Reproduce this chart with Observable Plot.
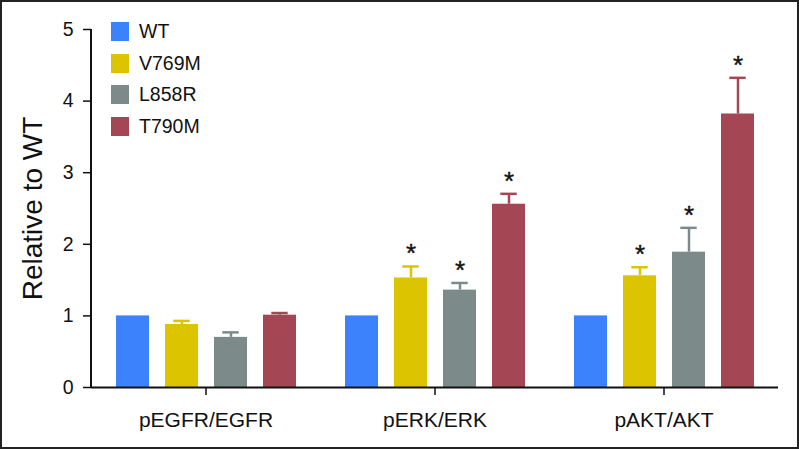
<!DOCTYPE html>
<html>
<head>
<meta charset="utf-8">
<script src="https://cdn.jsdelivr.net/npm/d3@7"></script>
<script src="https://cdn.jsdelivr.net/npm/@observablehq/plot@0.6"></script>
<style>
  html, body { margin: 0; padding: 0; background: #fff; }
  #wrap { position: relative; width: 799px; height: 449px; overflow: hidden; font-family: "Liberation Sans", Arial, sans-serif; }
  #frame { position: absolute; left: 0; top: 0; width: 799px; height: 449px; box-sizing: border-box; border: 2px solid #222; pointer-events: none; }
  #legend { position: absolute; left: 111px; top: 15.5px; }
  .row { display: flex; align-items: center; height: 31.7px; font-size: 19.5px; color: #111; }
  .sw { width: 18px; height: 19px; margin-right: 10px; }
</style>
</head>
<body>
<div id="wrap"><div id="chart"></div><div id="legend"></div><div id="frame"></div></div>
<script>
const groups = ["pEGFR/EGFR", "pERK/ERK", "pAKT/AKT"];
const series = ["WT", "V769M", "L858R", "T790M"];
const colors = ["#3b82fc", "#dcc500", "#7c8b89", "#a44654"];
const valWT    = [1.00, 1.00, 1.00];
const valV769M = [0.88, 1.53, 1.56];
const valL858R = [0.70, 1.36, 1.89];
const valT790M = [1.01, 2.56, 3.82];
const errWT    = [0, 0, 0];
const errV769M = [0.05, 0.16, 0.12];
const errL858R = [0.07, 0.10, 0.34];
const errT790M = [0.03, 0.145, 0.505];
const sigWT    = [false, false, false];
const sigV769M = [false, true, true];
const sigL858R = [false, true, true];
const sigT790M = [false, true, true];
const yTicks = [0, 1, 2, 3, 4, 5];

const vals = [valWT, valV769M, valL858R, valT790M];
const errs = [errWT, errV769M, errL858R, errT790M];
const sigs = [sigWT, sigV769M, sigL858R, sigT790M];
const data = [];
groups.forEach((g, gi) => series.forEach((s, si) => {
  data.push({group: g, series: s, value: vals[si][gi], hi: vals[si][gi] + errs[si][gi], err: errs[si][gi], sig: sigs[si][gi]});
}));
const withErr = data.filter(d => d.err > 0);
const starred = data.filter(d => d.sig);

const plot = Plot.plot({
  width: 799,
  height: 449,
  marginLeft: 91,
  marginRight: 21,
  marginTop: 29,
  marginBottom: 62,
  style: {fontFamily: "'Liberation Sans', Arial, sans-serif", color: "#111", background: "transparent"},
  fx: {domain: groups, padding: 0, label: null},
  x: {domain: series, paddingInner: 0.333, paddingOuter: 0.5, axis: null},
  y: {domain: [0, 5], label: null},
  color: {domain: series, range: colors},
  marks: [
    Plot.barY(data, {fx: "group", x: "series", y: "value", fill: "series"}),
    Plot.ruleX(withErr, {fx: "group", x: "series", y1: "value", y2: "hi", stroke: "series", strokeWidth: 2.5}),
    Plot.tickY(withErr, {fx: "group", x: "series", y: "hi", stroke: "series", strokeWidth: 2.5, insetLeft: 8.3, insetRight: 8.3}),
    Plot.text(starred, {fx: "group", x: "series", y: "hi", text: () => "*", fontSize: 26, dy: -12.5, fill: "#111", stroke: "#111", strokeWidth: 0.4}),
    Plot.ruleY([0], {stroke: "#111", strokeWidth: 2}),
    Plot.axisY({ticks: yTicks, tickFormat: d3.format("d"), tickSize: 8, tickPadding: 10, strokeWidth: 1.5, label: "Relative to WT", labelAnchor: "center", labelArrow: "none", labelOffset: 69}),
    Plot.axisFx({anchor: "bottom", tickSize: 8, tickPadding: 17, strokeWidth: 1.5, label: null}),
  ]
});
document.getElementById("chart").appendChild(plot);

const svg = d3.select(plot);
svg.selectAll("[aria-label='y-axis tick label']").style("font-size", "19.5px");
svg.selectAll("[aria-label='fx-axis tick label']").style("font-size", "21px");
svg.selectAll("[aria-label='y-axis label']").style("font-size", "28px");
const yScale = plot.scale("y");
svg.append("line")
  .attr("x1", 91).attr("x2", 91)
  .attr("y1", yScale.apply(0) + 1).attr("y2", yScale.apply(5))
  .attr("stroke", "#111").attr("stroke-width", 2);

const legend = document.getElementById("legend");
series.forEach((s, i) => {
  const row = document.createElement("div");
  row.className = "row";
  row.innerHTML = `<div class="sw" style="background:${colors[i]}"></div><span>${s}</span>`;
  legend.appendChild(row);
});
</script>
</body>
</html>
